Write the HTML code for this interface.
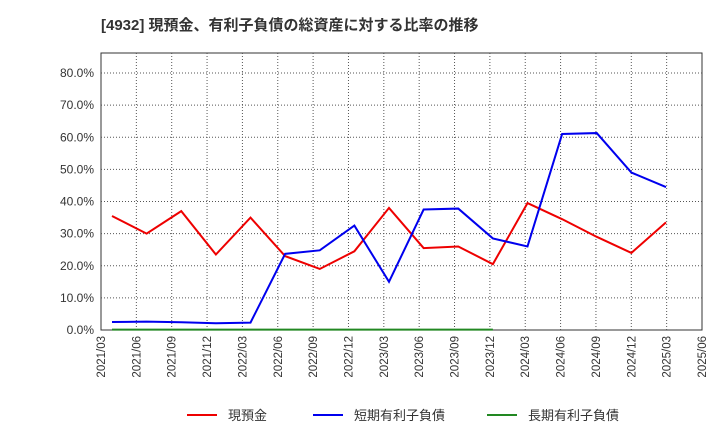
<!DOCTYPE html>
<html><head><meta charset="utf-8"><style>
body{margin:0;background:#fff;font-family:"Liberation Sans","Noto Sans CJK JP",sans-serif;}
</style></head><body>
<svg id="c" width="720" height="440" xmlns="http://www.w3.org/2000/svg" style="font-family:'Liberation Sans','Noto Sans CJK JP',sans-serif">
<text x="101" y="30" font-size="15" font-weight="bold" fill="#333">[4932]  現預金、有利子負債の総資産に対する比率の推移</text>
<g id="grid"></g><g id="axes"></g><g id="series"></g>
<g>
<line x1="187" y1="415" x2="217" y2="415" stroke="#ee0000" stroke-width="2"/>
<text x="228" y="420" font-size="13" fill="#333">現預金</text>
<line x1="313" y1="415" x2="343" y2="415" stroke="#0000ee" stroke-width="2"/>
<text x="354" y="420" font-size="13" fill="#333">短期有利子負債</text>
<line x1="487" y1="415" x2="517" y2="415" stroke="#228822" stroke-width="2"/>
<text x="528" y="420" font-size="13" fill="#333">長期有利子負債</text>
</g>
</svg>
<script>
const xTicks=["2021/03","2021/06","2021/09","2021/12","2022/03","2022/06","2022/09","2022/12","2023/03","2023/06","2023/09","2023/12","2024/03","2024/06","2024/09","2024/12","2025/03","2025/06"];
const yTicks=[0,10,20,30,40,50,60,70,80];
const cash=[35.5,30,37,23.5,35,23,19,24.5,38,25.5,26,20.5,39.5,34.5,29,24,33.5];
const shortDebt=[2.5,2.6,2.4,2.1,2.3,23.7,24.8,32.5,15,37.5,37.8,28.5,26,61,61.3,49,44.5];
const longDebt=[0.1,0.1,0.1,0.1,0.1,0.1,0.1,0.1,0.1,0.1,0.1,0.1];
const L=101,R=702,T=53,B=330;
const step=(R-L)/17;
const x0=112,x1=666;
const xq=i=>x0+(x1-x0)*i/16;
const yv=v=>B-(v/80)*(B-73);
const NS="http://www.w3.org/2000/svg";
const mk=(p,t,a)=>{const e=document.createElementNS(NS,t);for(const k in a)e.setAttribute(k,a[k]);p.appendChild(e);return e;};
const g=document.getElementById('grid'),ax=document.getElementById('axes'),s=document.getElementById('series');
mk(g,'rect',{x:L,y:T,width:R-L,height:B-T,fill:'#fff',stroke:'#333'});
xTicks.forEach((t,i)=>{const x=L+step*i;
 if(i>0&&i<17){const l=mk(g,'line',{x1:x,y1:T,x2:x,y2:B,stroke:'#555','stroke-dasharray':'1,2'});
 }
 const tx=mk(ax,'text',{x:x+4,y:B+6,'font-size':'11.5',fill:'#333','text-anchor':'end',transform:`rotate(-90 ${x+4} ${B+6})`});
 tx.textContent=t;
 
 
});
yTicks.forEach(v=>{const y=yv(v);
 if(v>0){const l=mk(g,'line',{x1:L,y1:y,x2:R,y2:y,stroke:'#555','stroke-dasharray':'1,2'});
 }
 const tx=mk(ax,'text',{x:L-7,y:y+4,'font-size':'12',fill:'#333','text-anchor':'end'});
 tx.textContent=v.toFixed(1)+'%';
 
 
});
function line(d,c,n){const p=mk(s,'polyline',{points:d.map((v,i)=>xq(i)+','+yv(v)).join(' '),fill:'none',stroke:c,'stroke-width':2});
 }
line(longDebt,'#228822','long-debt-line');
line(cash,'#ee0000','cash-line');
line(shortDebt,'#0000ee','short-debt-line');
</script>
</body></html>
